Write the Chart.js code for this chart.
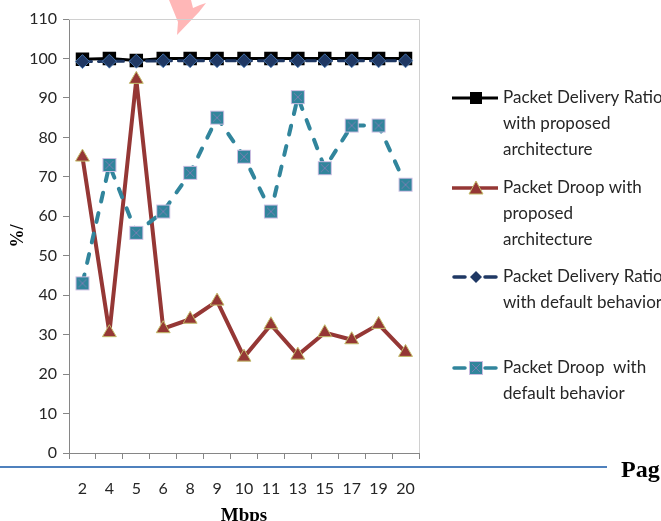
<!DOCTYPE html>
<html><head><meta charset="utf-8">
<script src="https://cdn.jsdelivr.net/npm/chart.js@4/dist/chart.umd.min.js"></script>
<style>html,body{margin:0;padding:0;background:#fff}#wrap{width:661px;height:521px;position:relative}</style>
</head><body><div id="wrap"><canvas id="c" width="661" height="521"></canvas></div>
<script>
const categories = ['2','4','5','6','8','9','10','11','13','15','17','19','20'];
const pdrProposed = [99.8,100,99.5,100,100,100,100,100,100,100,100,100,100];
const droopProposed = [75,30.5,94.7,31.5,33.9,38.5,24.3,32.5,24.8,30.5,28.7,32.6,25.5];
const pdrDefault = [99.2,99.3,99.3,99.4,99.4,99.4,99.4,99.4,99.4,99.4,99.4,99.4,99.4];
const droopDefault = [43,73,55.8,61.2,71,85,75.1,61.2,90.2,72.2,83,83,68];
const yTicks = [0,10,20,30,40,50,60,70,80,90,100,110];
const seriesNames = [
  ['Packet Delivery Ratio','with proposed','architecture'],
  ['Packet Droop with','proposed','architecture'],
  ['Packet Delivery Ratio','with default behavior'],
  ['Packet Droop  with','default behavior']
];

const FONT = 'Lato, "Open Sans", sans-serif';

// teal square with X marker
function tealMarker(){
  const s = 16, cv = document.createElement('canvas'); cv.width = s; cv.height = s;
  const g = cv.getContext('2d');
  g.fillStyle = '#31859C'; g.fillRect(1,1,14,14);
  g.strokeStyle = '#C9BCE0'; g.lineWidth = 1; g.strokeRect(1.5,1.5,13,13);
  g.strokeStyle = '#8A7CB8'; g.lineWidth = 0.8;
  g.beginPath(); g.moveTo(4,4); g.lineTo(12,12); g.moveTo(12,4); g.lineTo(4,12); g.stroke();
  return cv;
}
const tealImg = tealMarker();

const extras = {
  id: 'extras',
  beforeDraw(chart){
    const ctx = chart.ctx; ctx.save();
    // pink watermark fragment
    ctx.fillStyle = 'rgba(255,170,170,0.85)';
    ctx.beginPath();
    ctx.moveTo(169,0); ctx.lineTo(191,0); ctx.lineTo(193,8); ctx.lineTo(200,5); ctx.lineTo(206,3);
    ctx.lineTo(199,12); ctx.lineTo(177,35); ctx.lineTo(178,22); ctx.closePath(); ctx.fill();
    ctx.restore();
  },
  afterDraw(chart){
    const ctx = chart.ctx, a = chart.chartArea;
    ctx.save();
    // plot border top/right
    ctx.strokeStyle = '#D0D0D0'; ctx.lineWidth = 1;
    ctx.beginPath(); ctx.moveTo(a.left, a.top+0.5); ctx.lineTo(a.right+0.5, a.top+0.5); ctx.lineTo(a.right+0.5, a.bottom); ctx.stroke();
    // page rule
    ctx.strokeStyle = '#4F81BD'; ctx.lineWidth = 2;
    ctx.beginPath(); ctx.moveTo(0,467); ctx.lineTo(607,467); ctx.stroke();
    ctx.fillStyle = '#000'; ctx.font = 'bold 24px "Liberation Serif", serif';
    ctx.textBaseline = 'alphabetic'; ctx.fillText('Pag', 621, 477);
    // legend
    const sx0 = 452, sx1 = 498, mx = 476, tx = 503, lh = 26;
    const rows = [98, 188, 277, 368];
    ctx.font = '17px ' + FONT; ctx.textBaseline = 'middle'; ctx.fillStyle = '#262626';
    seriesNames.forEach((lines, i) => {
      lines.forEach((t, j) => ctx.fillText(t, tx, rows[i] + j*lh));
    });
    // swatches
    let y = rows[0];
    ctx.strokeStyle = '#000'; ctx.lineWidth = 3; ctx.setLineDash([]);
    ctx.beginPath(); ctx.moveTo(sx0,y); ctx.lineTo(sx1,y); ctx.stroke();
    ctx.fillStyle = '#000'; ctx.fillRect(mx-6,y-6,12,12);
    y = rows[1];
    ctx.strokeStyle = '#953735'; ctx.lineWidth = 3.5;
    ctx.beginPath(); ctx.moveTo(sx0,y); ctx.lineTo(sx1,y); ctx.stroke();
    ctx.fillStyle = '#953735'; ctx.strokeStyle = '#C3BD6B'; ctx.lineWidth = 1;
    ctx.beginPath(); ctx.moveTo(mx,y-7); ctx.lineTo(mx+7,y+6); ctx.lineTo(mx-7,y+6); ctx.closePath(); ctx.fill(); ctx.stroke();
    y = rows[2];
    ctx.strokeStyle = '#1F3864'; ctx.lineWidth = 3.5; ctx.lineCap = 'round';
    ctx.beginPath(); ctx.moveTo(sx0+2,y); ctx.lineTo(sx0+13,y); ctx.moveTo(sx1-13,y); ctx.lineTo(sx1-2,y); ctx.stroke();
    ctx.fillStyle = '#1F3864';
    ctx.beginPath(); ctx.moveTo(mx,y-6); ctx.lineTo(mx+6,y); ctx.lineTo(mx,y+6); ctx.lineTo(mx-6,y); ctx.closePath(); ctx.fill();
    y = rows[3];
    ctx.strokeStyle = '#31859C'; ctx.lineWidth = 3.5;
    ctx.beginPath(); ctx.moveTo(sx0+2,y); ctx.lineTo(sx0+13,y); ctx.moveTo(sx1-13,y); ctx.lineTo(sx1-2,y); ctx.stroke();
    ctx.drawImage(tealImg, mx-8, y-8);
    ctx.restore();
  }
};

new Chart(document.getElementById('c'), {
  type: 'line',
  data: {
    labels: categories,
    datasets: [
      { label: seriesNames[0].join(' '), data: pdrProposed, borderColor: '#000', backgroundColor: '#000',
        borderWidth: 3, borderJoinStyle: 'round', pointStyle: 'rect', pointRadius: 9.5, pointBorderWidth: 0, tension: 0, order: 4 },
      { label: seriesNames[1].join(' '), data: droopProposed, borderColor: '#953735', backgroundColor: '#953735',
        borderWidth: 4, borderJoinStyle: 'round', pointStyle: 'triangle', pointRadius: 8, pointBorderColor: '#C3BD6B', pointBorderWidth: 1, tension: 0, order: 2 },
      { label: seriesNames[2].join(' '), data: pdrDefault, borderColor: '#1F3864', backgroundColor: '#1F3864',
        borderWidth: 3, borderDash: [9,7], borderCapStyle: 'round', pointStyle: 'rectRot', pointRadius: 7, pointBorderColor: '#4F81BD', pointBorderWidth: 0.8, tension: 0, order: 3 },
      { label: seriesNames[3].join(' '), data: droopDefault, borderColor: '#31859C', backgroundColor: '#31859C',
        borderWidth: 4, borderDash: [9,12], borderCapStyle: 'round', borderJoinStyle: 'round', pointStyle: tealImg, tension: 0, order: 1 }
    ]
  },
  options: {
    responsive: false, animation: false,
    layout: { padding: { left: 0, right: 242, top: 19, bottom: 0 } },
    plugins: { legend: { display: false }, tooltip: { enabled: false } },
    scales: {
      x: {
        offset: true,
        grid: { display: true, drawOnChartArea: false, offset: true, tickLength: 6, color: '#868686' },
        border: { color: '#868686', width: 1 },
        ticks: { color: '#262626', font: { family: FONT, size: 16 }, padding: 20, maxRotation: 0, autoSkip: false },
        title: { display: true, text: 'Mbps', color: '#000', font: { family: '"Liberation Serif", serif', size: 19, weight: 'bold' }, padding: { top: 0, bottom: -6 } },
        afterFit(s){ s.height = 68; }
      },
      y: {
        min: 0, max: 110,
        afterBuildTicks(s){ s.ticks = yTicks.map(v => ({ value: v })); },
        grid: { display: true, drawOnChartArea: false, tickLength: 6, color: '#868686' },
        border: { color: '#868686', width: 1 },
        ticks: { color: '#262626', font: { family: FONT, size: 16 }, padding: 6 },
        title: { display: true, text: '%/', color: '#000', font: { family: '"Liberation Serif", serif', size: 18, weight: 'bold' }, padding: { top: 8, bottom: 0 } },
        afterFit(s){ s.width = 69; }
      }
    }
  },
  plugins: [extras]
});
</script></body></html>
